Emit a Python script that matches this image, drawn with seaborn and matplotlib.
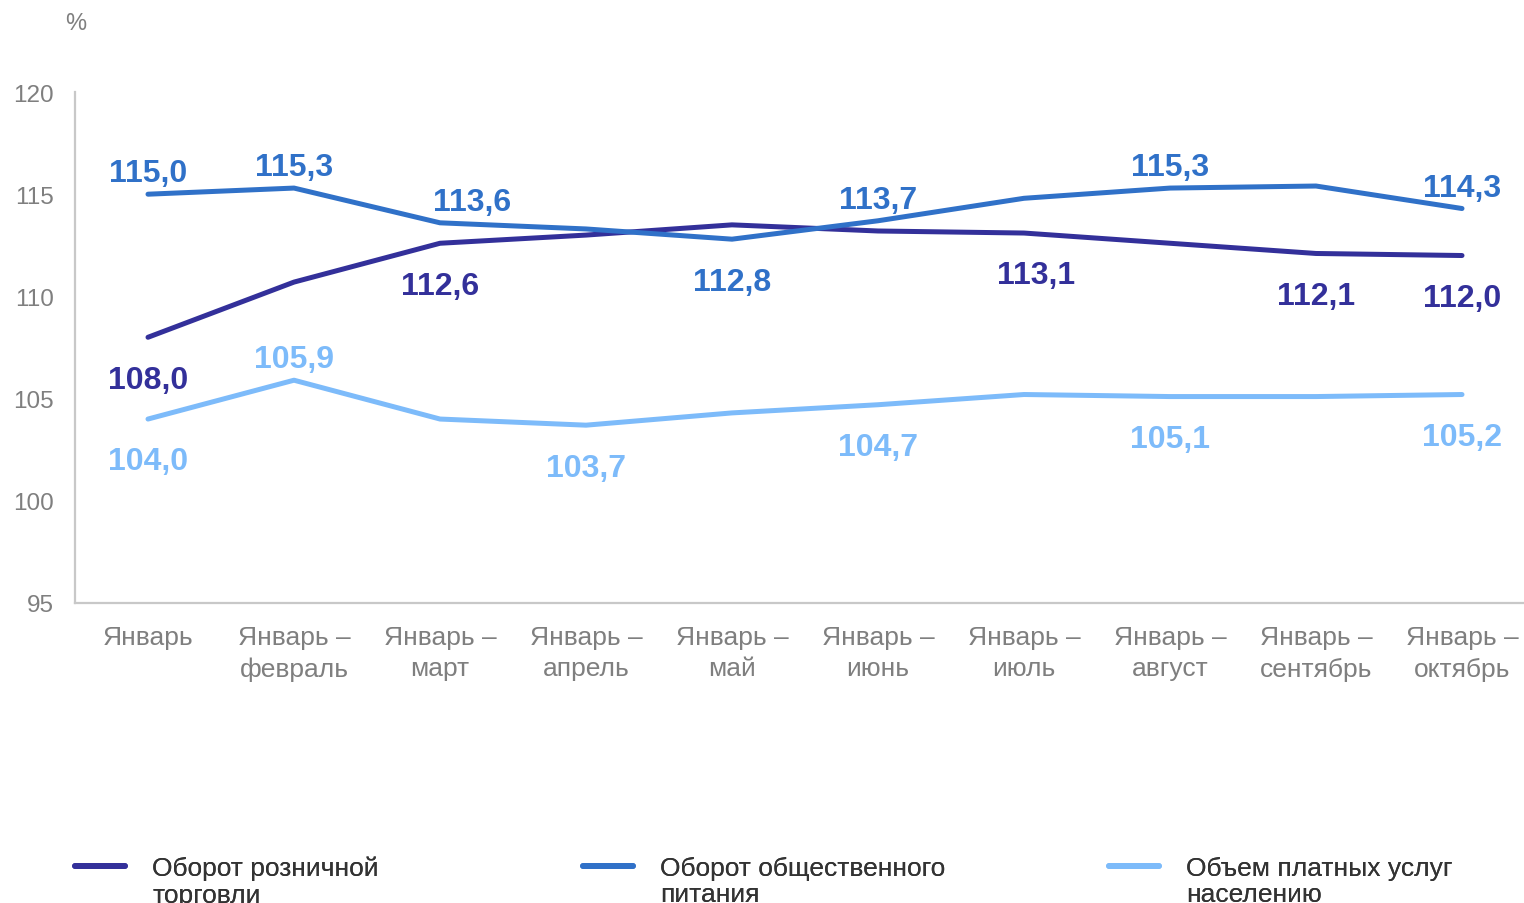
import numpy as np
import pandas as pd
import matplotlib.pyplot as plt
import seaborn as sns
from matplotlib.lines import Line2D

periods = ['Январь', 'Январь –\nфевраль', 'Январь –\nмарт', 'Январь –\nапрель', 'Январь –\nмай',
           'Январь –\nиюнь', 'Январь –\nиюль', 'Январь –\nавгуст', 'Январь –\nсентябрь', 'Январь –\nоктябрь']

retail = [108.0, 110.7, 112.6, 113.0, 113.5, 113.2, 113.1, 112.6, 112.1, 112.0]
catering = [115.0, 115.3, 113.6, 113.3, 112.8, 113.7, 114.8, 115.3, 115.4, 114.3]
services = [104.0, 105.9, 104.0, 103.7, 104.3, 104.7, 105.2, 105.1, 105.1, 105.2]

series_names = ['Оборот розничной\nторговли', 'Оборот общественного\nпитания', 'Объем платных услуг\nнаселению']
colors = ['#33309A', '#3071C8', '#7DBBFA']

# which points get a value label, and where (a = above, b = below)
retail_labels = {0: 'b', 2: 'b', 6: 'b', 8: 'b', 9: 'b'}
catering_labels = {0: 'a', 1: 'a', 2: 'a', 4: 'b', 5: 'a', 7: 'a', 9: 'a'}
services_labels = {0: 'b', 1: 'a', 3: 'b', 5: 'b', 7: 'b', 9: 'b'}

sns.set_style('white')
plt.rcParams['font.family'] = ['Liberation Sans', 'DejaVu Sans']

rows = []
for name, vals in zip(series_names, [retail, catering, services]):
    for i, v in enumerate(vals):
        rows.append({'x': i, 'value': v, 'series': name})
df = pd.DataFrame(rows)

fig = plt.figure(figsize=(15.24, 9.04), dpi=100)
ax = fig.add_axes([75 / 1524, 1 - 604 / 904, 1 - 75 / 1524, (604 - 93) / 904])

sns.lineplot(data=df, x='x', y='value', hue='series', palette=colors, linewidth=3.6,
             legend=False, ax=ax, sort=False)
for line in ax.get_lines():
    line.set_solid_capstyle('round')
    line.set_solid_joinstyle('round')

ax.set_xlim(-0.5, 9.5 - 11 / 146)
ax.set_ylim(95, 120)
ax.set_yticks([95, 100, 105, 110, 115, 120])
ax.set_xticks(range(len(periods)))
ax.set_xticklabels(periods, linespacing=1.38)
ax.set_xlabel('')
ax.set_ylabel('')
ax.tick_params(axis='y', length=0, pad=15, labelsize=17.5, labelcolor='#7f7f7f')
ax.tick_params(axis='x', length=0, pad=16, labelsize=19, labelcolor='#7f7f7f')
for s in ['top', 'right']:
    ax.spines[s].set_visible(False)
for s in ['left', 'bottom']:
    ax.spines[s].set_color('#c8c8c8')
    ax.spines[s].set_linewidth(1.6)

extra_dx = {(1, 2): 0.22, (0, 6): 0.08}
for k, (vals, labs) in enumerate(zip([retail, catering, services],
                                      [retail_labels, catering_labels, services_labels])):
    for i, pos in labs.items():
        dy = 15 if pos == 'a' else -30.5
        ax.annotate(f'{vals[i]:.1f}'.replace('.', ','), (i + extra_dx.get((k, i), 0), vals[i]),
                    xytext=(0, dy), textcoords='offset points', ha='center', va='center',
                    fontsize=23, fontweight='bold', color=colors[k])

fig.text(76 / 1524, 1 - 24 / 904, '%', ha='center', va='center', fontsize=17, color='#7f7f7f')

for k, xpos in enumerate([75, 583, 1109]):
    first, second = series_names[k].split('\n')
    handles = [Line2D([], [], color=colors[k], linewidth=4.2),
               Line2D([], [], color='none')]
    leg = fig.legend(handles, [first, second], loc='upper left',
                     bbox_to_anchor=(xpos / 1524, 1 - 857 / 904), frameon=False,
                     fontsize=19, handlelength=1.9, handletextpad=1.02, borderpad=0,
                     borderaxespad=0, labelspacing=0.08, labelcolor='#333333')
    fig.add_artist(leg)

fig.savefig('out.png', dpi=100)
